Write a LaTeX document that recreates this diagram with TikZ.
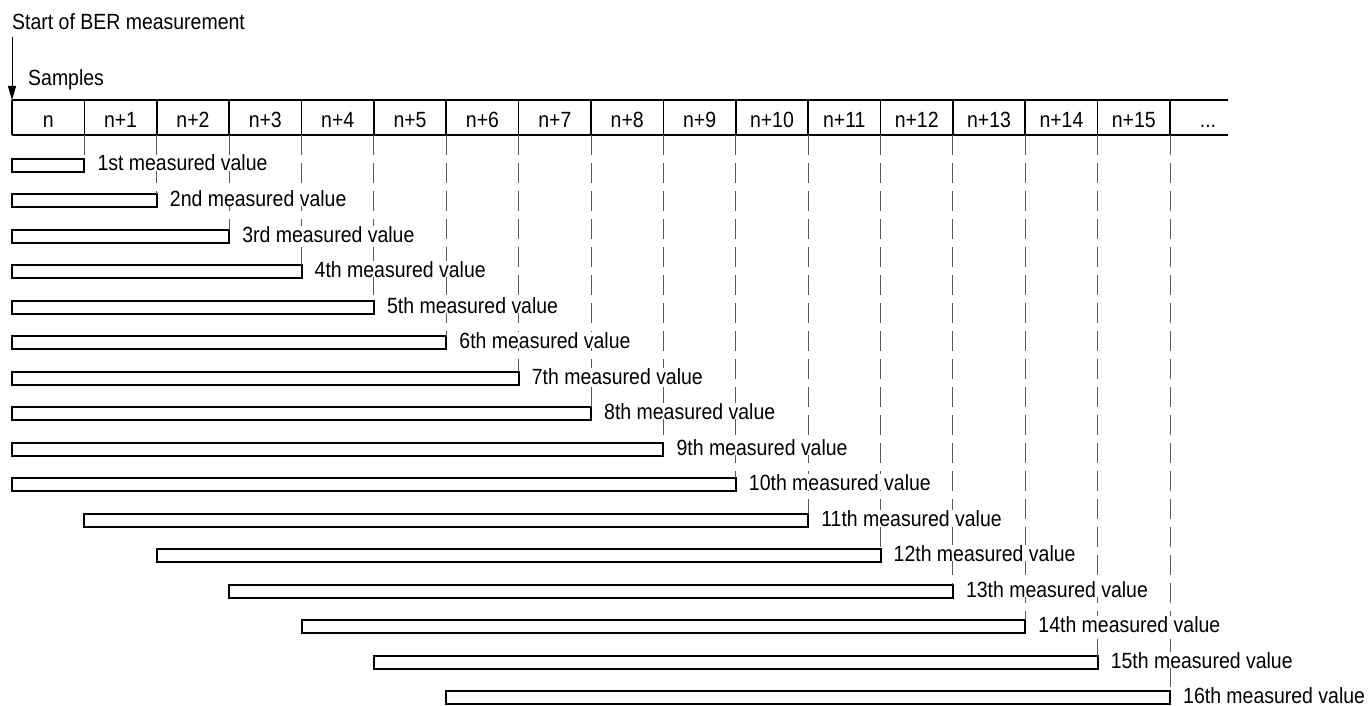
\documentclass[tikz,border=0pt]{standalone}
\usepackage{fontspec}
\setmainfont{Liberation Sans}[FakeStretch=0.885]
\usetikzlibrary{arrows.meta}
\begin{document}
\begin{tikzpicture}[x=1pt,y=-1pt,
  txt/.style={font=\fontsize{22}{26}\selectfont, inner sep=0pt},
  tline/.style={line width=1.6pt},
  barbox/.style={draw, line width=2pt, minimum height=13pt, inner sep=0pt, outer sep=0pt},
  guide/.style={line width=0.9pt, black!65, dash pattern=on 20pt off 8pt},
  lbl/.style={txt, fill=white, anchor=base west, inner xsep=2pt, inner ysep=0pt},
  arr/.style={line width=1pt, -{Triangle[length=14pt,width=8pt]}}]
\useasboundingbox (0,0) rectangle (1371,706);
\def\w{72.375}
% titles
\node[txt, anchor=base west] (start) at (12,30) {Start of BER measurement};
\node[txt, anchor=base west] (samples) at (28,86) {Samples};
% table
\coordinate (tl) at (12,100);
\coordinate (tr) at (1228,100);
\coordinate (bl) at (12,135);
\coordinate (br) at (1228,135);
\draw[tline] (tl) -- (tr);
\draw[tline] (bl) -- (br);
\foreach \k in {0,...,16} {
  \coordinate (top\k) at ({12+\k*\w},100);
  \coordinate (bot\k) at ({12+\k*\w},135);
  \draw[tline] (top\k) -- (bot\k);
}
\node[txt, anchor=base] (c0) at ({12+0.5*\w},128) {n};
\foreach \k in {1,...,15} {
  \node[txt, anchor=base] (c\k) at ({12+(\k+0.5)*\w},128) {n+\k};
}
\node[txt, anchor=base] (c16) at (1208,128) {...};
% arrow
\draw[arr] ([yshift=-7pt]start.south west) -- (tl);
% bars
\foreach \k in {1,...,16} {
  \pgfmathtruncatemacro{\lft}{max(0,\k-10)}
  \pgfmathsetmacro{\bw}{(\k-\lft)*\w}
  \pgfmathsetmacro{\cy}{floor(165+(\k-1)*35.5)+0.5}
  \node[barbox, minimum width=\bw pt, anchor=east] (b\k) at ({12+\k*\w},\cy) {};
}
% guides
\foreach \k in {1,...,16} {
  \draw[guide] (bot\k) -- (b\k.north east);
}
% labels
\foreach \k/\o in {1/1st,2/2nd,3/3rd,4/4th,5/5th,6/6th,7/7th,8/8th,9/9th,10/10th,11/11th,12/12th,13/13th,14/14th,15/15th,16/16th} {
  \node[lbl] (l\k) at ([xshift=11pt,yshift=1pt]b\k.south east) {\o{} measured value};
}
\end{tikzpicture}
\end{document}
